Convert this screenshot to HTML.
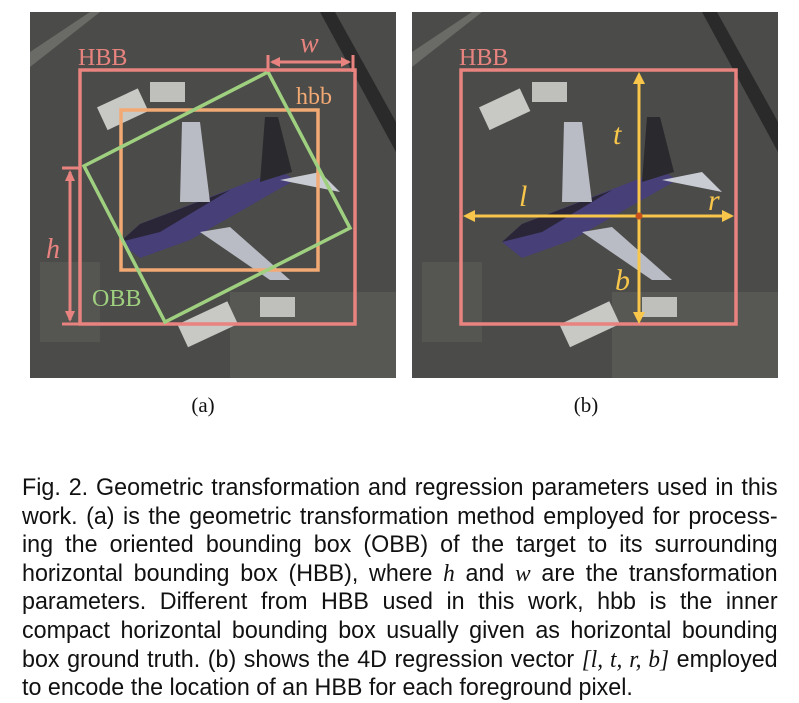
<!DOCTYPE html>
<html><head><meta charset="utf-8"><style>
body{margin:0;background:#fff;width:799px;height:702px;overflow:hidden;position:relative}
svg{position:absolute;left:0;top:0}
.cap{position:absolute;left:22px;top:474px;width:779px;transform:scaleX(0.97);transform-origin:0 0;font-family:"Liberation Sans",sans-serif;font-size:24px;line-height:28.6px;color:#111}
.cap div{text-align:justify;text-align-last:justify;white-space:nowrap}
.cap div.last{text-align-last:left}
.cap i{font-family:"Liberation Serif",serif;font-size:24px}
</style></head><body>
<svg width="799" height="702" viewBox="0 0 799 702">
<defs>
<g id="photo">
<rect x="0" y="0" width="366" height="366" fill="#4b4b49"/>
<polygon points="0,40 60,0 70,0 0,55" fill="#6a6a66"/>
<polygon points="290,0 305,0 366,110 366,140" fill="#2a2a2a"/>
<rect x="200" y="280" width="166" height="86" fill="#575754"/>
<rect x="10" y="250" width="60" height="80" fill="#555552"/>
<rect x="70" y="85" width="45" height="25" fill="#c8c8c4" transform="rotate(-25 92 97)"/>
<rect x="150" y="300" width="55" height="25" fill="#c8c8c4" transform="rotate(-25 177 312)"/>
<rect x="120" y="70" width="35" height="20" fill="#bfbfbb"/>
<rect x="230" y="285" width="35" height="20" fill="#bfbfbb"/>
<polygon points="90,230 110,212 250,158 265,168 160,228 110,246" fill="#463f78"/>
<polygon points="90,230 110,212 200,178 130,220" fill="#2a2638"/>
<polygon points="150,190 152,110 170,110 180,190" fill="#b9bcc4"/>
<polygon points="170,220 200,215 260,268 240,268" fill="#b9bcc4"/>
<polygon points="230,170 235,105 248,105 262,160" fill="#2a2a2e"/>
<polygon points="250,168 290,160 310,180" fill="#c9ccd3"/>
</g>
</defs>
<use href="#photo" x="30" y="12"/>
<use href="#photo" x="412" y="12"/>
<g fill="none" stroke-width="3.5">
<rect x="80" y="70" width="275" height="254" stroke="#e8837f"/>
<rect x="121" y="110" width="197" height="160" stroke="#f2a974"/>
<polygon points="268,72 350,228 165,322 84,166" stroke="#9fd07f"/>
<g stroke="#e8837f" stroke-width="3">
<line x1="268" y1="55" x2="268" y2="72"/><line x1="353" y1="55" x2="353" y2="72"/>
<line x1="272" y1="62" x2="349" y2="62"/>
<line x1="62" y1="168" x2="80" y2="168"/><line x1="62" y1="324" x2="80" y2="324"/>
<line x1="70" y1="172" x2="70" y2="320"/>
</g>
<rect x="461" y="70" width="275" height="254" stroke="#e8837f"/>
<g stroke="#f7c64a" stroke-width="3">
<line x1="639" y1="80" x2="639" y2="316"/>
<line x1="471" y1="216" x2="726" y2="216"/>
</g>
</g>
<g fill="#e8837f">
<polygon points="270,62 280,57 280,67"/><polygon points="351,62 341,57 341,67"/>
<polygon points="70,170 65,181 75,181"/><polygon points="70,322 65,311 75,311"/>
</g>
<g fill="#f7c64a">
<polygon points="639,72 633,84 645,84"/><polygon points="639,324 633,312 645,312"/>
<polygon points="463,216 475,210 475,222"/><polygon points="734,216 722,210 722,222"/>
</g>
<circle cx="639" cy="216" r="3.5" fill="#c9531c"/>
<g font-family="Liberation Serif,serif" font-size="24">
<text x="78" y="65" fill="#e8837f">HBB</text>
<text x="459" y="65" fill="#e8837f">HBB</text>
<text x="296" y="104" fill="#f2a974">hbb</text>
<text x="92" y="306" fill="#9fd07f">OBB</text>
<text x="300" y="52" fill="#e8837f" font-style="italic" font-size="28">w</text>
<text x="46" y="258" fill="#e8837f" font-style="italic" font-size="28">h</text>
<g fill="#f7c64a" font-style="italic" font-size="30">
<text x="613" y="144">t</text><text x="519" y="206">l</text>
<text x="708" y="210">r</text><text x="615" y="290">b</text>
</g>
<g fill="#111" font-size="21">
<text x="203" y="412" text-anchor="middle">(a)</text>
<text x="586" y="412" text-anchor="middle">(b)</text>
</g>
</g>
</svg>
<div class="cap">
<div>Fig. 2. Geometric transformation and regression parameters used in this</div>
<div>work. (a) is the geometric transformation method employed for process-</div>
<div>ing the oriented bounding box (OBB) of the target to its surrounding</div>
<div>horizontal bounding box (HBB), where <i>h</i> and <i>w</i> are the transformation</div>
<div>parameters. Different from HBB used in this work, hbb is the inner</div>
<div>compact horizontal bounding box usually given as horizontal bounding</div>
<div>box ground truth. (b) shows the 4D regression vector <i>[l, t, r, b]</i> employed</div>
<div class="last">to encode the location of an HBB for each foreground pixel.</div>
</div>
</body></html>
